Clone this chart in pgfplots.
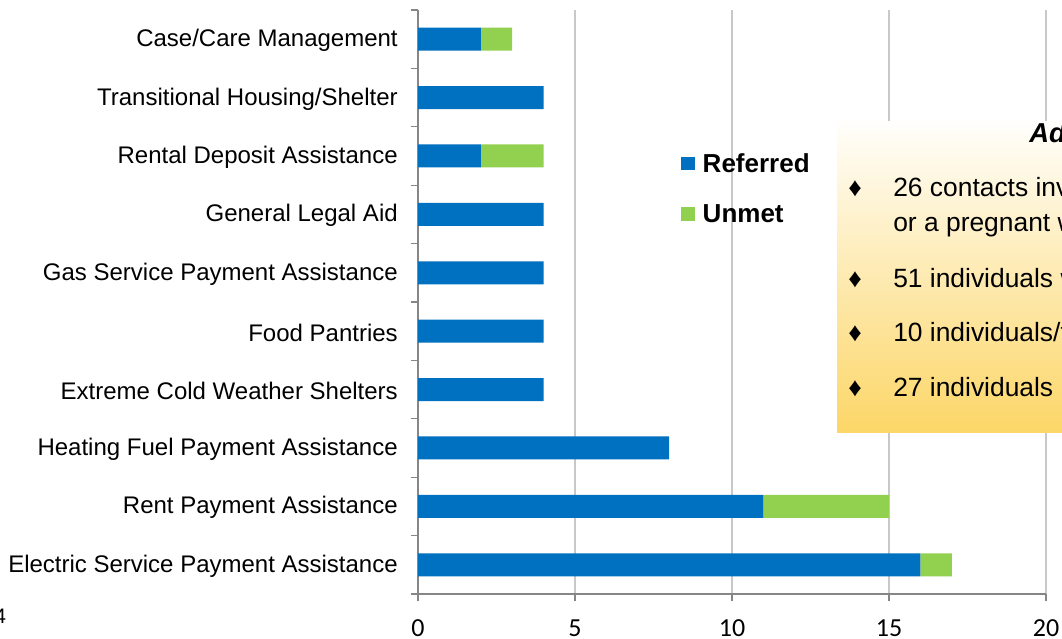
\documentclass[border=0pt]{standalone}
\usepackage{fontspec}
\setmainfont{Liberation Sans}
\newfontfamily\calibri{Carlito}
\usepackage{pgfplots}
\pgfplotsset{compat=1.18}
\definecolor{refblue}{HTML}{0070C0}
\definecolor{unmetgreen}{HTML}{92D050}
\definecolor{axisgray}{HTML}{868686}
\definecolor{gridgray}{HTML}{C8C8C8}
\definecolor{boxtop}{HTML}{FFFEFB}
\definecolor{boxmid}{HTML}{FDEBBE}
\definecolor{boxbot}{HTML}{FCD667}
\begin{document}
\begin{tikzpicture}
\useasboundingbox (0,0) rectangle (796.5pt,478.5pt);
\clip (0,0) rectangle (796.5pt,478.5pt);
\fill[white] (0,0) rectangle (796.5pt,478.5pt);
\begin{axis}[
  at={(313.5pt,33pt)}, anchor=south west,
  scale only axis, width=471pt, height=438pt,
  xbar stacked, bar width=17.25pt,
  xmin=0, xmax=20, ymin=-0.5, ymax=9.5,
  axis lines*=left,
  axis line style={axisgray, line width=0.9pt},
  xtick={0,5,10,15,20},
  xticklabels={0,5,10,15,20},
  xmajorgrids, grid style={gridgray, line width=0.9pt},
  ytick={-0.5,0.5,1.5,2.5,3.5,4.5,5.5,6.5,7.5,8.5,9.5},
  yticklabels={},
  extra y ticks={0,1,2,3,4,5,6,7,8,9},
  extra y tick labels={Electric Service Payment Assistance, Rent Payment Assistance, Heating Fuel Payment Assistance, Extreme Cold Weather Shelters, Food Pantries, Gas Service Payment Assistance, General Legal Aid, Rental Deposit Assistance, Transitional Housing/Shelter, Case/Care Management},
  extra y tick style={tick style={draw=none}, grid=none,
    yticklabel style={anchor=east, inner sep=0pt, xshift=-9.75pt, yshift=-1pt, font=\fontsize{18}{21}\selectfont}},
  tick align=outside,
  major tick length=5.25pt,
  tick style={axisgray, line width=0.9pt},
  xticklabel style={anchor=base, yshift=-26.5pt, font=\calibri\fontsize{19.5}{22}\selectfont},
  legend style={draw=none, fill=none, at={(0.419,0.694)}, anchor=west,
    font=\bfseries\fontsize{19.5}{23}\selectfont, row sep=18.5pt, inner sep=0pt,
    /tikz/every odd column/.append style={column sep=4pt}},
  legend cell align=left,
  legend image code/.code={\fill[#1] (0pt,-5pt) rectangle (10pt,5pt);},
]
\addplot[fill=refblue, draw=none] coordinates {(16,0) (11,1) (8,2) (4,3) (4,4) (4,5) (4,6) (2,7) (4,8) (2,9)};
\addplot[fill=unmetgreen, draw=none] coordinates {(1,0) (4,1) (0,2) (0,3) (0,4) (0,5) (0,6) (2,7) (0,8) (1,9)};
\legend{Referred, Unmet}
\end{axis}
\shade[top color=boxtop, middle color=boxmid, bottom color=boxbot] (627.75pt,153.75pt) rectangle (802.5pt,387pt);
\node[anchor=base west, inner sep=0pt, font=\bfseries\itshape\fontsize{20.5}{24}\selectfont] at (771.75pt,371.25pt) {Additional Information};
\foreach \yy in {330.75,262.5,222,180.75}{
  \node[anchor=base, inner sep=0pt, font=\fontsize{19.8}{24}\selectfont] at (641.25pt,\yy pt) {♦};
}
\begin{scope}[every node/.style={anchor=base west, inner sep=0pt, font=\fontsize{19.8}{24}\selectfont}]
\node at (669.75pt,330.75pt) {26 contacts involved a child under five};
\node at (669.75pt,304.5pt) {or a pregnant woman};
\node at (669.75pt,262.5pt) {51 individuals were seniors};
\node at (669.75pt,222pt) {10 individuals/families were homeless};
\node at (669.75pt,180.75pt) {27 individuals had a disability};
\end{scope}
\node[anchor=base west, inner sep=0pt, font=\fontsize{15.75}{18}\selectfont] at (-4.5pt,11.25pt) {4};
\end{tikzpicture}
\end{document}
